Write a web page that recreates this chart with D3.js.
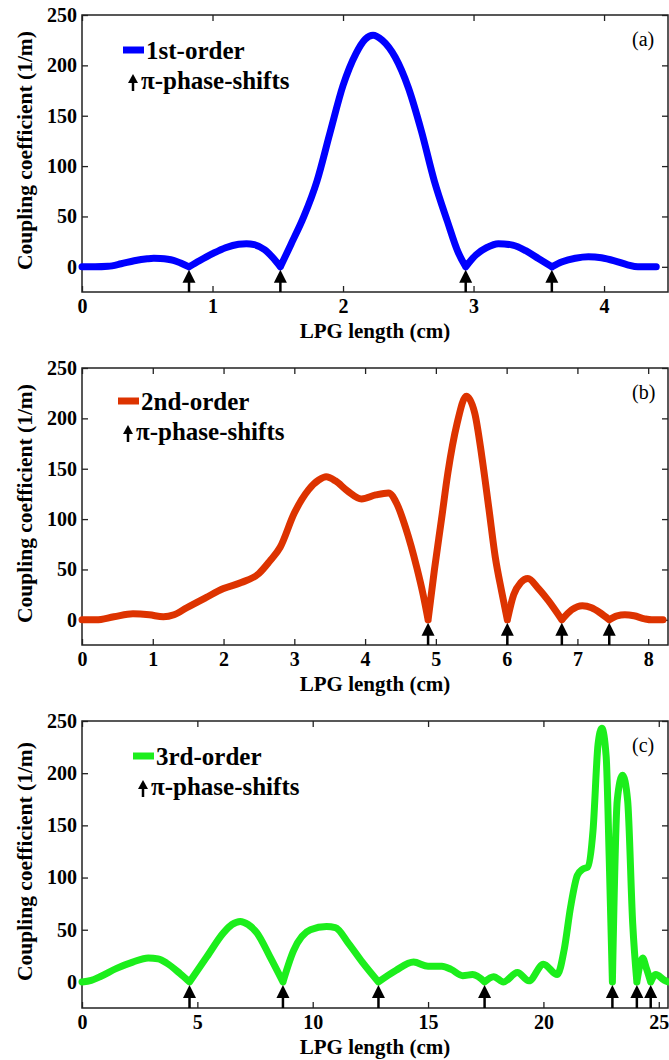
<!DOCTYPE html>
<html>
<head>
<meta charset="utf-8">
<script src="https://cdn.jsdelivr.net/npm/d3@7"></script>
<style>
  body { margin: 0; background: #fff; }
  svg { display: block; }
  text { font-family: "Liberation Serif", "DejaVu Serif", "Times New Roman", serif; }
</style>
</head>
<body>
<svg id="chart" width="669" height="1060"></svg>
<script>
// panel (a) 1st-order
var xA = [0, 0.1, 0.2, 0.3, 0.4, 0.5, 0.55, 0.6, 0.7, 0.76, 0.82, 0.9, 1.0, 1.1, 1.2, 1.26, 1.32, 1.4, 1.47, 1.52,
  1.6, 1.7, 1.8, 1.9, 2.0, 2.1, 2.17, 2.23, 2.3, 2.4, 2.5, 2.6, 2.7, 2.8, 2.88, 2.94,
  3.02, 3.1, 3.19, 3.3, 3.4, 3.5, 3.6, 3.68, 3.78, 3.88, 3.98, 4.08, 4.18, 4.26, 4.33, 4.40];
var yA = [0, 0, 0.5, 3, 6, 8, 8.5, 8.3, 6.5, 3.5, 0, 6, 13, 19, 22.5, 23, 22, 17, 8, 0,
  22, 50, 85, 133, 180, 212, 226, 230, 225, 208, 178, 135, 85, 45, 15, 0,
  12, 19, 23, 21.5, 16, 8, 0, 5, 8.5, 10, 9, 6, 2, 0, 0, 0];
var shiftsA = [0.82, 1.52, 2.94, 3.6];

// panel (b) 2nd-order
var xB = [0, 0.2, 0.45, 0.72, 0.95, 1.15, 1.3, 1.48, 1.75, 2.0, 2.25, 2.5, 2.65, 2.8, 3.0, 3.2, 3.35, 3.45, 3.58,
  3.75, 3.95, 4.15, 4.33, 4.45, 4.57, 4.73, 4.82, 4.89,
  4.98, 5.08, 5.17, 5.3, 5.43, 5.55, 5.65, 5.75, 5.84, 5.93, 6.01,
  6.1, 6.2, 6.3, 6.45, 6.59, 6.78,
  6.92, 7.07, 7.2, 7.32, 7.45, 7.56, 7.67, 7.8, 7.95, 8.05, 8.21];
var yB = [0, 0, 3, 6, 5, 3, 5, 12, 22, 31, 37, 46, 58, 72, 106, 129, 139, 142, 138,
  128, 120, 124, 126, 115, 92, 52, 25, 0,
  50, 100, 146, 195, 222, 205, 162, 110, 62, 28, 0,
  25, 37, 41, 31, 19, 0,
  10, 14, 12, 7, 0, 4, 5, 4, 1, 0, 0];
var shiftsB = [4.89, 6.01, 6.78, 7.45];

// panel (c) 3rd-order
var xC = [0, 0.4, 0.78, 1.5, 2.2, 2.87, 3.3, 3.67, 4.25, 4.66,
  5.41, 6.13, 6.5, 6.86, 7.2, 7.58, 8.15, 8.71,
  9.17, 9.9, 10.6, 10.98, 11.55, 12.15, 12.85,
  13.6, 14.37, 15.0, 15.6, 16.0, 16.5, 16.93, 17.45,
  17.84, 18.27, 18.87, 19.37, 20.0, 20.6, 20.9, 21.18, 21.47, 21.7, 21.92, 22.15, 22.37, 22.53, 22.72, 22.85, 22.99,
  23.2, 23.43, 23.65, 23.87, 24.05,
  24.3, 24.45, 24.65,
  24.87, 25.22, 25.4];
var yC = [0, 1.5, 5, 13, 19, 23, 22, 18, 8, 0,
  24, 47, 55, 58, 55, 47, 24, 0,
  30, 50, 53, 52, 37, 19, 0,
  11, 19, 15, 15, 12, 6, 7, 0,
  5, 0, 9, 1, 17, 7, 31, 72, 102, 108, 110, 145, 228, 243, 216, 120, 0,
  174, 198, 174, 56, 0,
  23, 14, 0,
  7, 2, 0];
var shiftsC = [4.66, 8.71, 12.85, 17.45, 22.99, 24.05, 24.65];

var yTicks = [0, 50, 100, 150, 200, 250];

var panels = [
  {xs: xA, ys: yA, shifts: shiftsA, xMax: 4.49, xTicks: [0, 1, 2, 3, 4], top: 15, bottom: 292,
   color: '#0000ff', name: '1st-order', tag: '(a)', legX: 123, legY: 50},
  {xs: xB, ys: yB, shifts: shiftsB, xMax: 8.28, xTicks: [0, 1, 2, 3, 4, 5, 6, 7, 8], top: 368, bottom: 645,
   color: '#dd3300', name: '2nd-order', tag: '(b)', legX: 118, legY: 401},
  {xs: xC, ys: yC, shifts: shiftsC, xMax: 25.4, xTicks: [0, 5, 10, 15, 20, 25], top: 721, bottom: 1008,
   color: '#1cee1c', name: '3rd-order', tag: '(c)', legX: 133, legY: 756}
];

var svg = d3.select('#chart');
var left = 82, right = 668, tickLen = 6;

function drawArrow(g, cx, tipY, baseY, w, headH){
  g.append('path')
    .attr('d', 'M' + cx + ',' + tipY + 'L' + (cx + w / 2) + ',' + (tipY + headH) + 'L' + (cx - w / 2) + ',' + (tipY + headH) + 'Z')
    .attr('fill', '#000');
  g.append('line')
    .attr('x1', cx).attr('x2', cx)
    .attr('y1', tipY + headH - 1).attr('y2', baseY)
    .attr('stroke', '#000').attr('stroke-width', 2.5);
}

panels.forEach(function(p){
  var x = d3.scaleLinear().domain([0, p.xMax]).range([left, right]);
  var y = d3.scaleLinear().domain([-25, 250]).range([p.bottom, p.top]);
  var g = svg.append('g');

  // axes with inward ticks
  g.append('g').attr('transform', 'translate(0,' + p.bottom + ')')
    .call(d3.axisBottom(x).tickValues(p.xTicks).tickSizeInner(-tickLen).tickSizeOuter(0).tickPadding(7).tickFormat(d3.format('d')));
  g.append('g').attr('transform', 'translate(0,' + p.top + ')')
    .call(d3.axisTop(x).tickValues(p.xTicks).tickSizeInner(-tickLen).tickSizeOuter(0).tickFormat(''));
  g.append('g').attr('transform', 'translate(' + left + ',0)')
    .call(d3.axisLeft(y).tickValues(yTicks).tickSizeInner(-tickLen).tickSizeOuter(0).tickPadding(5));
  g.append('g').attr('transform', 'translate(' + right + ',0)')
    .call(d3.axisRight(y).tickValues(yTicks).tickSizeInner(-tickLen).tickSizeOuter(0).tickFormat(''));
  g.selectAll('.domain').remove();
  g.selectAll('.tick line').attr('stroke', '#222').attr('stroke-width', 1.3);
  g.selectAll('.tick text').attr('font-size', 20).attr('font-weight', 'bold').attr('fill', '#000');
  g.append('rect').attr('x', left).attr('y', p.top).attr('width', right - left).attr('height', p.bottom - p.top)
    .attr('fill', 'none').attr('stroke', '#222').attr('stroke-width', 1.5);

  // curve, split at the pi phase shifts so they stay sharp
  var pts = p.xs.map(function(d, i){ return [d, p.ys[i]]; });
  var segs = [], cur = [];
  pts.forEach(function(pt){
    cur.push(pt);
    if (p.shifts.indexOf(pt[0]) >= 0) { segs.push(cur); cur = [pt]; }
  });
  segs.push(cur);
  var line = d3.line().x(function(d){ return x(d[0]); }).y(function(d){ return y(d[1]); }).curve(d3.curveMonotoneX);
  g.append('path')
    .attr('d', segs.map(function(s){ return line(s); }).join(''))
    .attr('fill', 'none').attr('stroke', p.color).attr('stroke-width', 7)
    .attr('stroke-linejoin', 'round').attr('stroke-linecap', 'round');

  // phase-shift arrows
  p.shifts.forEach(function(s){
    drawArrow(g, x(s), y(0) + 3, p.bottom, 13, 13);
  });

  // legend
  g.append('line').attr('x1', p.legX).attr('x2', p.legX + 21).attr('y1', p.legY).attr('y2', p.legY)
    .attr('stroke', p.color).attr('stroke-width', 7);
  g.append('text').attr('x', p.legX + 23).attr('y', p.legY + 9).text(p.name)
    .attr('font-size', 25).attr('font-weight', 'bold');
  drawArrow(g, p.legX + 10, p.legY + 24, p.legY + 41, 10, 9);
  g.append('text').attr('x', p.legX + 18).attr('y', p.legY + 39).text('π-phase-shifts')
    .attr('font-size', 25).attr('font-weight', 'bold');

  // panel tag
  g.append('text').attr('x', 632).attr('y', p.top + 31).text(p.tag).attr('font-size', 20);

  // axis titles
  g.append('text').attr('x', (left + right) / 2).attr('y', p.bottom + 46).attr('text-anchor', 'middle')
    .attr('font-size', 21).attr('font-weight', 'bold').text('LPG length (cm)');
  g.append('text').attr('transform', 'translate(32,' + ((p.top + p.bottom) / 2 - 3) + ') rotate(-90)')
    .attr('text-anchor', 'middle').attr('font-size', 21.5).attr('font-weight', 'bold')
    .text('Coupling coefficient (1/m)');
});
</script>
</body>
</html>
